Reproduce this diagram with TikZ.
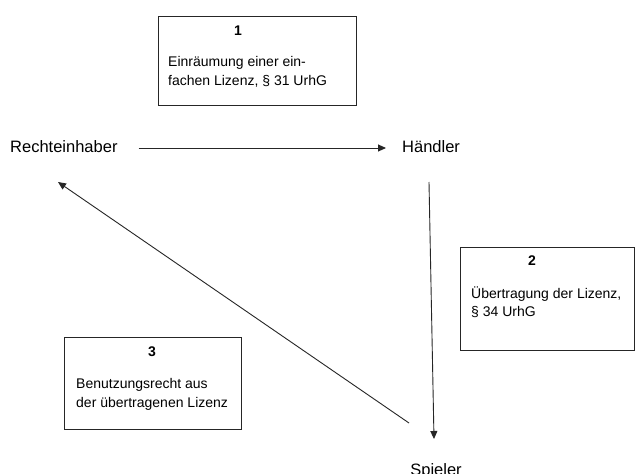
\documentclass[tikz,border=0pt]{standalone}
\usepackage{fontspec}
\setmainfont{Liberation Sans}
\usetikzlibrary{arrows.meta}
\begin{document}
\begin{tikzpicture}[x=1pt,y=-1pt,
  lbl/.style={font=\fontsize{16.5}{20}\selectfont, inner sep=0pt, text height=12pt, text depth=3.5pt},
  boxtxt/.style={font=\fontsize{14}{17}\selectfont, inner sep=0pt, anchor=west, text height=10pt, text depth=3pt},
  numtxt/.style={font=\fontsize{14}{17}\selectfont\bfseries, inner sep=0pt, text height=10pt, text depth=3pt},
  frame/.style={draw=black!85, line width=0.9pt, inner sep=0pt, anchor=north west},
  arr/.style={draw=black!85, line width=0.9pt, -{Triangle[length=8pt,width=7pt]}}]
\useasboundingbox (0,0) rectangle (635,474);
\fill[white] (0,0) rectangle (635,474);
% boxes
\node[frame, minimum width=198pt, minimum height=89pt] (b1) at (158,16) {};
\node[frame, minimum width=174pt, minimum height=103pt] (b2) at (459.5,247) {};
\node[frame, minimum width=177pt, minimum height=92pt] (b3) at (64,337) {};
% box texts
\node[numtxt] (n1) at (238,32) {1};
\node[boxtxt] (t1a) at (168,63) {Einräumung einer ein-};
\node[boxtxt] (t1b) at (168,82) {fachen Lizenz, § 31 UrhG};
\node[numtxt] (n2) at (532,262) {2};
\node[boxtxt] (t2a) at (471,295) {Übertragung der Lizenz,};
\node[boxtxt] (t2b) at (471,313) {§ 34 UrhG};
\node[numtxt] (n3) at (152,353) {3};
\node[boxtxt] (t3a) at (76,385) {Benutzungsrecht aus};
\node[boxtxt] (t3b) at (76,404) {der übertragenen Lizenz};
% parties
\node[lbl, anchor=west] (r) at (10,148) {Rechteinhaber};
\node[lbl, anchor=west] (h) at (402,148) {Händler};
\node[lbl, anchor=base] (s) at (436,475) {Spieler};
% arrows
\draw[arr] ([xshift=21pt]r.east) -- ([xshift=-16pt]h.west);
\coordinate (v1) at (429,182);
\coordinate (v2) at (434,439);
\draw[arr] (v1) -- (v2);
\coordinate (d1) at (409,423);
\coordinate (d2) at (58,182);
\draw[arr] (d1) -- (d2);
\end{tikzpicture}
\end{document}
